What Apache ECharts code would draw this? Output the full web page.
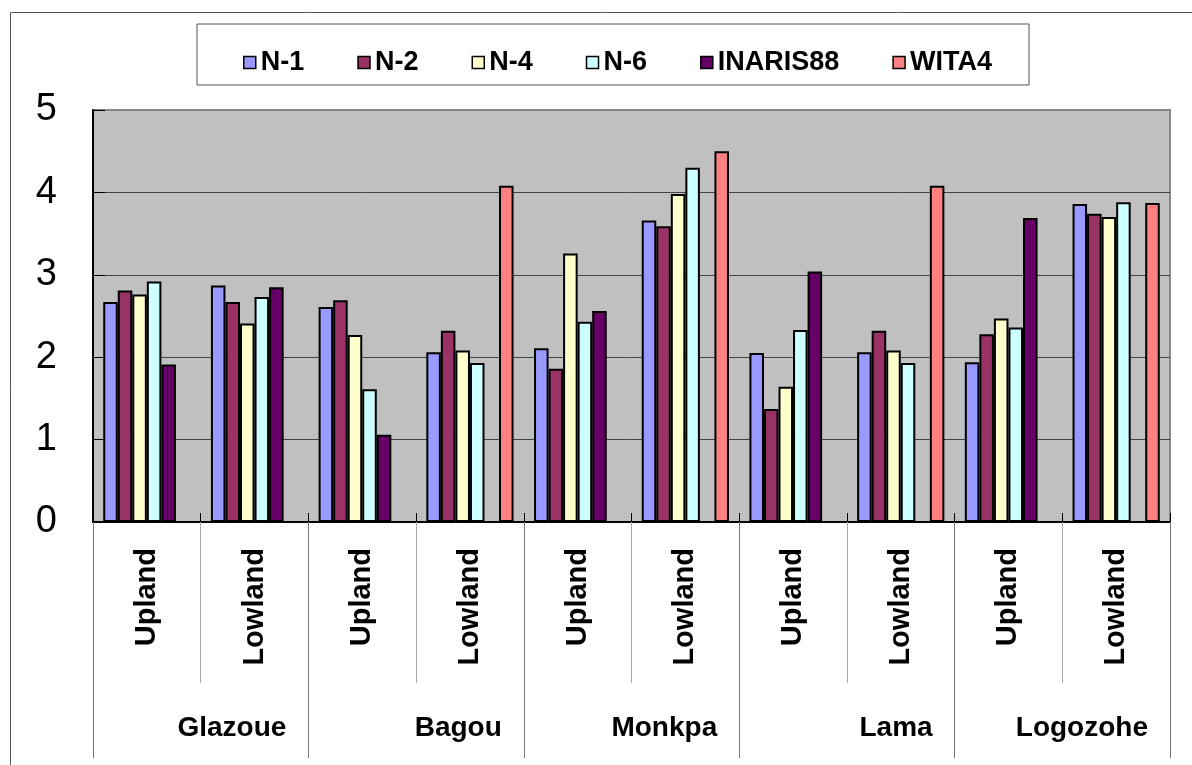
<!DOCTYPE html>
<html>
<head>
<meta charset="utf-8">
<title>Yield by site and ecology</title>
<script src="https://cdn.jsdelivr.net/npm/echarts@6/dist/echarts.min.js"></script>
<style>
    html, body { margin: 0; padding: 0; background: #fff; }
    #chart { width: 1192px; height: 765px; }
</style>
</head>
<body>
<div id="chart"></div>
<script>
// categories
const ecologies = ['Upland', 'Lowland', 'Upland', 'Lowland', 'Upland', 'Lowland', 'Upland', 'Lowland', 'Upland', 'Lowland'];
const sites = ['Glazoue', 'Bagou', 'Monkpa', 'Lama', 'Logozohe'];
const varieties = ['N-1', 'N-2', 'N-4', 'N-6', 'INARIS88', 'WITA4'];

// values (null = no bar)
const n1 = [2.67, 2.87, 2.61, 2.06, 2.11, 3.66, 2.05, 2.06, 1.94, 3.86];
const n2 = [2.81, 2.67, 2.69, 2.32, 1.86, 3.59, 1.37, 2.32, 2.28, 3.74];
const n4 = [2.76, 2.41, 2.27, 2.08, 3.26, 3.98, 1.64, 2.08, 2.47, 3.70];
const n6 = [2.92, 2.73, 1.61, 1.93, 2.43, 4.30, 2.33, 1.93, 2.36, 3.88];
const inaris88 = [1.91, 2.85, 1.06, null, 2.56, null, 3.04, null, 3.69, null];
const wita4 = [null, null, null, 4.08, null, 4.50, null, 4.08, null, 3.87];

// y axis ticks
const yTicks = [0, 1, 2, 3, 4, 5];

document.addEventListener('DOMContentLoaded', function () {
    initChart();
});

function initChart() {
    const chartDom = document.getElementById('chart');
    const myChart = echarts.init(chartDom);

    const font = "'Liberation Sans', Arial, sans-serif";
    const colors = ['#9999ff', '#993366', '#ffffcc', '#ccffff', '#660066', '#ff8080'];
    const values = [n1, n2, n4, n6, inaris88, wita4];

    const series = varieties.map(function (name, i) {
        return {
            name: name,
            type: 'bar',
            xAxisIndex: 0,
            yAxisIndex: 0,
            barGap: '0%',
            barCategoryGap: '19%',
            itemStyle: {
                color: colors[i],
                borderColor: '#000',
                borderWidth: 2
            },
            data: values[i].map(function (v) { return v === null ? '-' : v; })
        };
    });

    const option = {
        backgroundColor: '#fff',
        animation: false,
        textStyle: { fontFamily: font },
        graphic: [
            {
                // outer chart-area frame
                type: 'rect',
                left: 8,
                top: 10,
                shape: { width: 1300, height: 900 },
                style: { fill: 'none', stroke: '#555', lineWidth: 1 },
                z: -10
            }
        ],
        legend: {
            left: 197,
            top: 24,
            padding: [25, 37, 9, 46],
            borderColor: '#555',
            borderWidth: 1,
            itemWidth: 12,
            itemHeight: 12,
            itemGap: 53,
            icon: 'rect',
            itemStyle: { borderColor: '#000', borderWidth: 1.5 },
            textStyle: {
                color: '#000',
                fontSize: 27,
                fontWeight: 'bold',
                fontFamily: font
            },
            data: varieties
        },
        grid: {
            left: 93,
            right: 22,
            top: 110,
            bottom: 243,
            show: true,
            backgroundColor: '#c0c0c0',
            borderColor: '#888',
            borderWidth: 2
        },
        xAxis: [
            {
                // ecology labels + short separators
                type: 'category',
                data: ecologies,
                position: 'bottom',
                offset: 0,
                axisLine: { show: true, lineStyle: { color: '#000', width: 2 } },
                axisTick: {
                    show: true,
                    interval: 0,
                    length: 161,
                    lineStyle: { color: '#aaa', width: 1 }
                },
                axisLabel: {
                    interval: 0,
                    rotate: 90,
                    margin: 26,
                    color: '#000',
                    fontSize: 29,
                    fontWeight: 'bold',
                    fontFamily: font
                }
            },
            {
                // site labels + long separators
                type: 'value',
                position: 'bottom',
                offset: 0,
                min: 0,
                max: 5,
                interval: 1,
                axisLine: { show: false },
                splitLine: { show: false },
                axisTick: {
                    show: true,
                    length: 236,
                    lineStyle: { color: '#777', width: 1 }
                },
                axisLabel: {
                    showMinLabel: true,
                    showMaxLabel: true,
                    margin: 192,
                    align: 'right',
                    padding: [0, 22, 0, 0],
                    color: '#000',
                    fontSize: 28,
                    fontWeight: 'bold',
                    fontFamily: font,
                    formatter: function (v) {
                        return v >= 1 ? sites[v - 1] : '';
                    }
                }
            },
            {
                // small inside ticks at category boundaries
                type: 'category',
                data: ecologies,
                position: 'bottom',
                offset: 0,
                axisLine: { show: false },
                axisLabel: { show: false },
                axisTick: {
                    show: true,
                    inside: true,
                    interval: 0,
                    length: 9,
                    lineStyle: { color: '#000', width: 1 }
                }
            }
        ],
        yAxis: {
            type: 'value',
            min: yTicks[0],
            max: yTicks[yTicks.length - 1],
            interval: 1,
            axisLine: { show: true, lineStyle: { color: '#000', width: 2 } },
            axisTick: {
                show: true,
                inside: true,
                length: 12,
                lineStyle: { color: '#000', width: 1 }
            },
            axisLabel: {
                margin: 36,
                color: '#000',
                fontSize: 38,
                fontFamily: font
            },
            splitLine: {
                show: true,
                showMinLine: false,
                showMaxLine: false,
                lineStyle: { color: '#444', width: 1 }
            }
        },
        series: series
    };

    myChart.setOption(option);

    window.addEventListener('resize', function () {
        myChart.resize();
    });
}
</script>
</body>
</html>
